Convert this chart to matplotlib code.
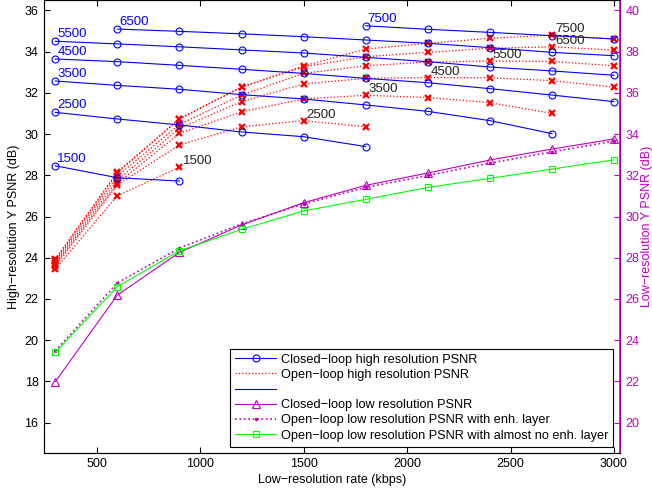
import numpy as np
import matplotlib
matplotlib.use("Agg")
import matplotlib.pyplot as plt
from matplotlib.lines import Line2D

plt.rcParams['font.family'] = ['Liberation Sans', 'DejaVu Sans']
plt.rcParams['font.size'] = 9

# low-resolution rates (kbps)
lr_rates = [300, 600, 900, 1200, 1500, 1800, 2100, 2400, 2700, 3000]
hr_labels = ['1500', '2500', '3500', '4500', '5500', '6500', '7500']

# closed-loop high resolution PSNR, one curve per high-res rate
closed_start = [300, 300, 300, 300, 300, 600, 1800]
closed_1500 = [28.46, 27.88, 27.72]
closed_2500 = [31.05, 30.73, 30.44, 30.10, 29.87, 29.39]
closed_3500 = [32.57, 32.36, 32.17, 31.91, 31.70, 31.41, 31.10, 30.65, 30.02]
closed_4500 = [33.64, 33.51, 33.33, 33.14, 32.94, 32.70, 32.49, 32.20, 31.89, 31.57]
closed_5500 = [34.50, 34.37, 34.23, 34.08, 33.93, 33.72, 33.51, 33.25, 33.06, 32.85]
closed_6500 = [35.09, 34.98, 34.86, 34.72, 34.56, 34.40, 34.19, 33.96, 33.80]
closed_7500 = [35.25, 35.08, 34.93, 34.77, 34.61]

# open-loop high resolution PSNR (all start at 300 kbps)
open_1500 = [23.45, 27.01, 28.39]
open_2500 = [23.58, 27.53, 29.47, 30.35, 30.65, 30.35]
open_3500 = [23.67, 27.61, 30.03, 31.08, 31.70, 31.88, 31.77, 31.52, 31.00]
open_4500 = [23.74, 27.77, 30.28, 31.57, 32.43, 32.70, 32.74, 32.73, 32.59, 32.27]
open_5500 = [23.82, 27.96, 30.47, 31.89, 32.94, 33.31, 33.49, 33.54, 33.52, 33.31]
open_6500 = [23.89, 28.12, 30.73, 32.27, 33.26, 33.75, 33.96, 34.16, 34.23, 34.07]
open_7500 = [23.94, 28.16, 30.75, 32.28, 33.30, 34.12, 34.40, 34.64, 34.80, 34.61]

# low resolution PSNR (right axis)
closed_lr = [21.99, 26.19, 28.26, 29.59, 30.67, 31.51, 32.11, 32.74, 33.27, 33.76]
open_lr_enh = [23.48, 26.78, 28.47, 29.64, 30.61, 31.41, 31.99, 32.59, 33.13, 33.66]
open_lr_noenh = [23.41, 26.60, 28.34, 29.38, 30.27, 30.83, 31.41, 31.85, 32.30, 32.75]

closed_hr = [closed_1500, closed_2500, closed_3500, closed_4500,
             closed_5500, closed_6500, closed_7500]
open_hr = [open_1500, open_2500, open_3500, open_4500,
           open_5500, open_6500, open_7500]

W, H = 652, 494
fig = plt.figure(figsize=(W / 100, H / 100), dpi=100)
ax = fig.add_axes([44 / W, (H - 452.7) / H, (620 - 44) / W, 452.7 / H])

for vals, lab in zip(open_hr, hr_labels):
    x = lr_rates[:len(vals)]
    ax.plot(x, vals, ':', color='r', lw=0.9)
    ax.plot(x, vals, 'x', color='r', ms=4.5, mew=1.6)
    k = int(np.argmax(vals))
    ax.annotate(lab, (x[k], vals[k]), xytext=(3, 6), textcoords='offset pixels',
                ha='left', va='center', color='#222222', fontsize=9.5)

for vals, start, lab in zip(closed_hr, closed_start, hr_labels):
    i0 = lr_rates.index(start)
    x = lr_rates[i0:i0 + len(vals)]
    ax.plot(x, vals, '-o', color='b', lw=0.8, ms=5, mfc='none', mew=0.8)
    ax.annotate(lab, (x[0], vals[0]), xytext=(2, 7), textcoords='offset pixels',
                ha='left', va='center', color='b', fontsize=9.5)

ax.set_xlim(245.3, 3029)
ax.set_ylim(14.545, 36.5)
ax.set_xticks([500, 1000, 1500, 2000, 2500, 3000])
ax.set_yticks(np.arange(16, 37, 2))
ax.tick_params(direction='in', length=4, width=0.8, top=True, right=False, pad=4)
ax.set_xlabel('Low\u2212resolution rate (kbps)', labelpad=3)
ax.set_ylabel('High\u2212resolution Y PSNR (dB)', labelpad=3)
for s in ax.spines.values():
    s.set_linewidth(0.8)

ax2 = ax.twinx()
ax2.plot(lr_rates, closed_lr, '-^', color='m', lw=0.8, ms=6, mfc='none', mew=0.8)
ax2.plot(lr_rates, open_lr_enh, ':', color='m', lw=1.2, marker='.', ms=3)
ax2.plot(lr_rates, open_lr_noenh, '-s', color='#00ff00', lw=0.8, ms=5, mfc='none', mew=0.8)
ax2.set_ylim(18.545, 40.5)
ax2.set_yticks(np.arange(20, 41, 2))
ax2.tick_params(direction='in', length=4, width=0.8, colors='m', pad=4)
ax2.spines['right'].set_color('#c000c0')
ax2.spines['right'].set_linewidth(1.2)
ax2.set_ylabel('Low\u2212resolution Y PSNR (dB)', color='m', labelpad=1)

handles = [
    Line2D([], [], color='b', lw=0.8, marker='o', ms=5, mfc='none', mew=0.8),
    Line2D([], [], color='r', lw=0.9, ls=':'),
    Line2D([], [], color='b', lw=0.8),
    Line2D([], [], color='m', lw=0.8, marker='^', ms=6, mfc='none', mew=0.8),
    Line2D([], [], color='m', lw=1.2, ls=':', marker='.', ms=3),
    Line2D([], [], color='#00ff00', lw=0.8, marker='s', ms=5, mfc='none', mew=0.8),
]
labels = ['Closed\u2212loop high resolution PSNR',
          'Open\u2212loop high resolution PSNR',
          ' ',
          'Closed\u2212loop low resolution PSNR',
          'Open\u2212loop low resolution PSNR with enh. layer',
          'Open\u2212loop low resolution PSNR with almost no enh. layer']
leg = ax2.legend(handles, labels, loc='lower right',
                 bbox_to_anchor=((613.3 - 44) / 576, 6 / 452.7),
                 borderaxespad=0, fancybox=False, framealpha=1,
                 edgecolor='k', handlelength=3.2, handletextpad=0.35,
                 labelspacing=0.25, borderpad=0.4, fontsize=9.2)
leg.get_frame().set_linewidth(0.8)

fig.savefig('out.png', dpi=100)
